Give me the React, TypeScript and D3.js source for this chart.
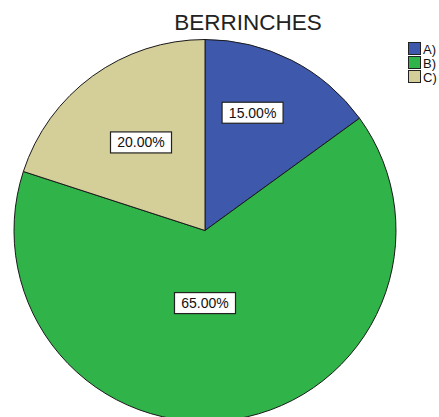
import React from "react";
import * as d3 from "d3";

const categories = ["A)", "B)", "C)"];
const values = [15, 65, 20];
const labels = ["15.00%", "65.00%", "20.00%"];
const colors = ["#3E58AC", "#30B349", "#D4CE99"];
const labelRadiusFrac = [0.665, 0.38, 0.57];
const labelAngleOffsetDeg = [-5, 9, 0];
const title = "BERRINCHES";

export default function App() {
  const W = 439, H = 417;
  const cx = 205, cy = 230.5, R = 191;
  const pie = d3.pie<number>().sort(null).value((d) => d);
  const arcs = pie(values);
  const arcGen = d3.arc<d3.PieArcDatum<number>>().innerRadius(0).outerRadius(R);
  const font = "'Liberation Sans', Arial, sans-serif";
  return (
    <svg width={W} height={H} style={{ position: "absolute", left: 0, top: 0 }}>
      <rect width={W} height={H} fill="#fff" />
      <text x={248} y={30} textAnchor="middle" fontFamily={font} fontSize={22.5} fill="#222">
        {title}
      </text>
      <g transform={`translate(${cx},${cy})`}>
        {arcs.map((a, i) => (
          <path key={i} d={arcGen(a) || ""} fill={colors[i]} stroke="#1a1a1a" strokeWidth={1} />
        ))}
        {arcs.map((a, i) => {
          const mid = (a.startAngle + a.endAngle) / 2 + (labelAngleOffsetDeg[i] * Math.PI) / 180;
          const r = R * labelRadiusFrac[i];
          const x = r * Math.sin(mid);
          const y = -r * Math.cos(mid);
          return (
            <g key={"l" + i} transform={`translate(${x},${y})`}>
              <rect x={-30.5} y={-10.5} width={61} height={21} fill="#fff" stroke="#222" strokeWidth={1.2} />
              <text x={0} y={5} textAnchor="middle" fontFamily={font} fontSize={14} fill="#111">
                {labels[i]}
              </text>
            </g>
          );
        })}
      </g>
      {categories.map((c, i) => (
        <g key={"lg" + i} transform={`translate(408,${42 + i * 14})`}>
          <rect x={0.5} y={0.5} width={12} height={12} fill={colors[i]} stroke="#222" strokeWidth={1} />
          <text x={15} y={11.5} fontFamily={font} fontSize={13} fill="#111">
            {c}
          </text>
        </g>
      ))}
    </svg>
  );
}
